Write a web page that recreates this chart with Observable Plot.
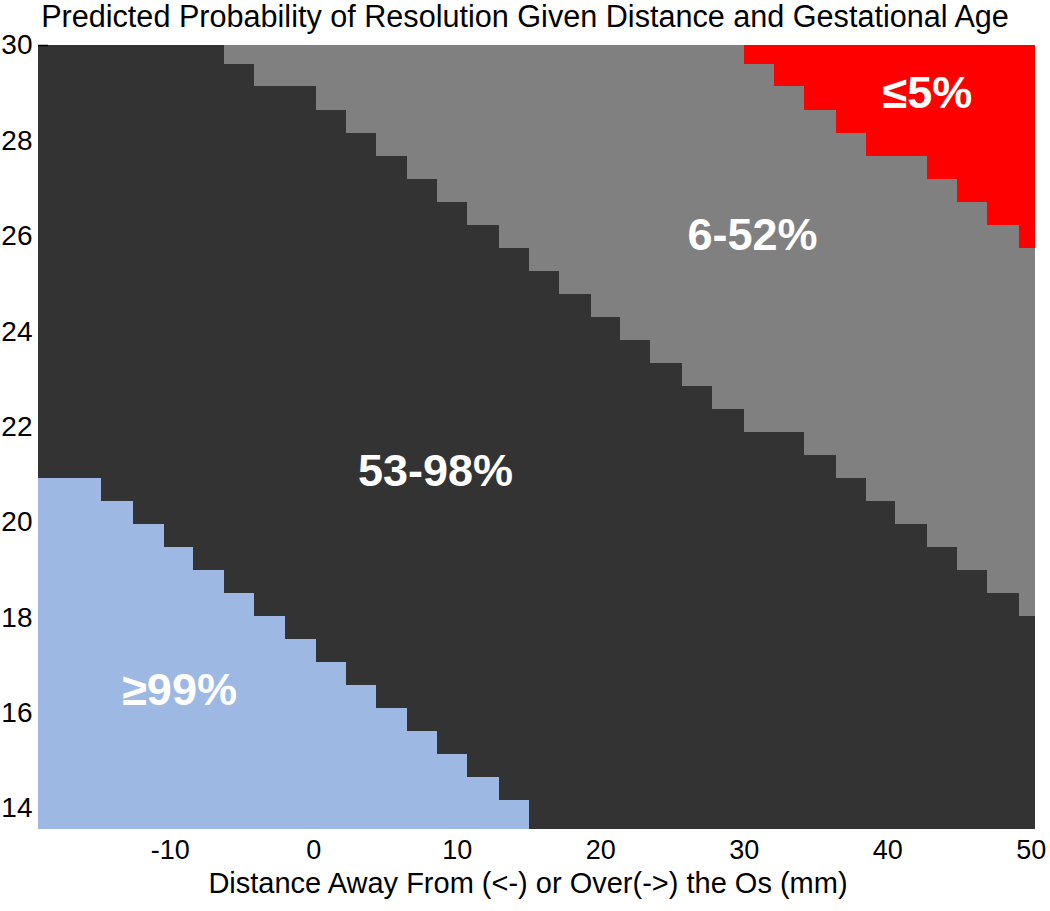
<!DOCTYPE html>
<html>
<head>
<meta charset="utf-8">
<script src="https://cdn.jsdelivr.net/npm/d3@7"></script>
<script src="https://cdn.jsdelivr.net/npm/@observablehq/plot@0.6"></script>
<style>
  body { margin: 0; background: #fff; font-family: "Liberation Sans", Arial, sans-serif; }
  #title { height: 45px; box-sizing: border-box; text-align: center; font-size: 30.6px; line-height: 30px; padding-top: 1px; color: #000; white-space: nowrap; }
</style>
</head>
<body>
<div id="title"></div>
<div id="chart"></div>
<script>
const titleText = "Predicted Probability of Resolution Given Distance and Gestational Age";
const xLabel = "Distance Away From (<-) or Over(->) the Os (mm)";
const xTicks = [-10, 0, 10, 20, 30, 40, 50];
const yTicks = [14, 16, 18, 20, 22, 24, 26, 28, 30];
const xDomain = [-19.19, 50.30];
const yDomain = [13.56, 30];

// column edges (mm) of the predicted-probability grid
const colEdges = [-19.19, -16.93, -14.80, -12.57, -10.43, -8.38, -6.22, -4.13, -1.97, 0.19,
  2.28, 4.37, 6.53, 8.62, 10.70, 12.94, 15.03, 17.12, 19.35, 21.37, 23.46, 25.69, 27.78,
  30.01, 32.10, 34.19, 36.42, 38.51, 40.53, 42.76, 44.86, 46.95, 49.18, 50.30];

// per column: upper gestational age (weeks) of each probability band (null = band absent / reaches edge)
const blueTop = [20.92, 20.92, 20.44, 19.96, 19.48, 18.99, 18.51, 18.03, 17.55, 17.06, 16.58,
  16.10, 15.62, 15.13, 14.65, 14.17, null, null, null, null, null, null, null, null, null,
  null, null, null, null, null, null, null, null];
const darkTop = [null, null, null, null, null, null, 29.61, 29.13, 29.13, 28.64, 28.16, 27.68,
  27.20, 26.71, 26.23, 25.75, 25.27, 24.78, 24.30, 23.82, 23.34, 22.85, 22.37, 21.89, 21.89,
  21.41, 20.92, 20.44, 19.96, 19.48, 18.99, 18.51, 18.03];
const grayTop = [null, null, null, null, null, null, null, null, null, null, null, null, null,
  null, null, null, null, null, null, null, null, null, null, 29.61, 29.13, 28.64, 28.16,
  27.68, 27.68, 27.20, 26.71, 26.23, 25.75];

const categories = ["≥99%", "53-98%", "6-52%", "≤5%"];
const colors = ["#9db9e3", "#333333", "#808080", "#ff0000"];
const labelX = [-9.36, 8.48, 30.58, 42.77];
const labelY = [16.48, 21.07, 26.02, 28.99];

const cells = [];
for (let c = 0; c < colEdges.length - 1; c++) {
  const x1 = colEdges[c], x2 = colEdges[c + 1];
  const b = blueTop[c] ?? yDomain[0];
  const d = darkTop[c] ?? yDomain[1];
  const g = grayTop[c] ?? yDomain[1];
  if (blueTop[c] != null) cells.push({x1, x2, y1: yDomain[0], y2: b, cat: categories[0]});
  cells.push({x1, x2, y1: b, y2: d, cat: categories[1]});
  if (darkTop[c] != null) cells.push({x1, x2, y1: d, y2: g, cat: categories[2]});
  if (grayTop[c] != null) cells.push({x1, x2, y1: g, y2: yDomain[1], cat: categories[3]});
}

document.getElementById("title").textContent = titleText;

const chart = Plot.plot({
  width: 1050,
  height: 866,
  marginLeft: 38,
  marginRight: 15,
  marginTop: 0,
  marginBottom: 82,
  style: {fontFamily: "Liberation Sans, Arial, sans-serif", fontSize: "28px", overflow: "visible", background: "white", color: "black"},
  x: {domain: xDomain},
  y: {domain: yDomain},
  color: {domain: categories, range: colors},
  marks: [
    Plot.rect(cells, {x1: "x1", x2: "x2", y1: "y1", y2: "y2", fill: "cat", shapeRendering: "crispEdges"}),
    Plot.axisX({ticks: xTicks, tickSize: 0, tickPadding: 10, tickFormat: d => String(d), label: null, fontSize: 27}),
    Plot.axisY({ticks: yTicks, tickSize: 0, tickPadding: 6, tickFormat: d => String(d), label: null}),
    Plot.axisY({ticks: [yDomain[1]], tickSize: -10, tickFormat: () => "", label: null, strokeWidth: 1.5}),
    Plot.text(categories, {x: (d, i) => labelX[i], y: (d, i) => labelY[i], text: d => d, fill: "white", fontSize: 45, fontWeight: "bold"}),
    Plot.text([xLabel], {frameAnchor: "bottom", lineAnchor: "middle", dy: 54, dx: -9, fontSize: 29, fill: "black"})
  ]
});
document.getElementById("chart").appendChild(chart);
</script>
</body>
</html>
